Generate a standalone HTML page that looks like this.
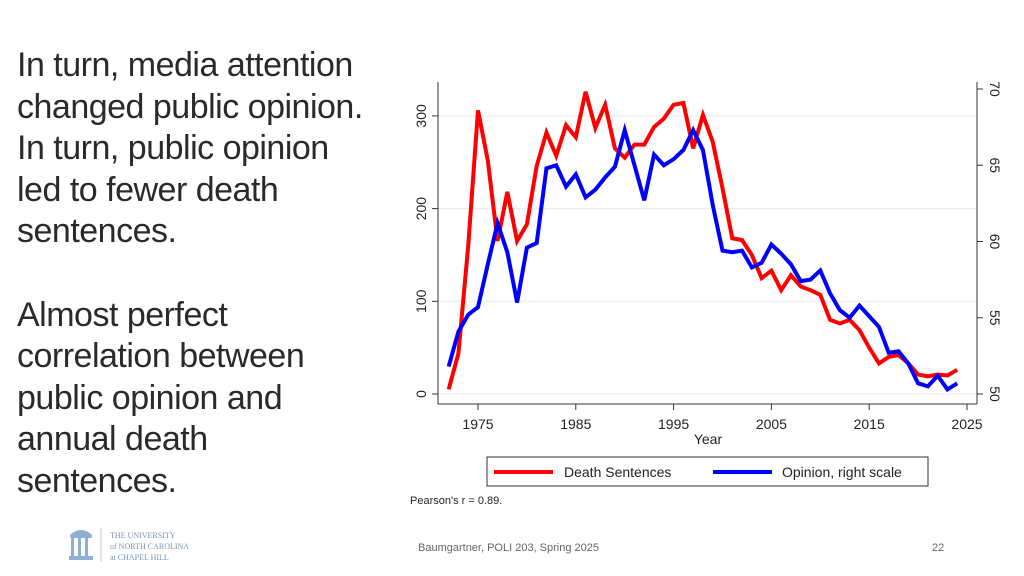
<!DOCTYPE html>
<html><head><meta charset="utf-8"><style>
body{margin:0;width:1024px;height:576px;background:#fff;overflow:hidden;position:relative;font-family:"Liberation Sans",sans-serif}
.txt{position:absolute;left:17px;top:45px;font-size:34px;line-height:41.6px;color:#2a2a2a;letter-spacing:-0.5px;white-space:nowrap}
.foot{position:absolute;top:542px;font-size:11px;color:#666}
</style></head><body>
<div class="txt">In turn, media attention<br>changed public opinion.<br>In turn, public opinion<br>led to fewer death<br>sentences.<br><br>Almost perfect<br>correlation between<br>public opinion and<br>annual death<br>sentences.</div>
<div style="position:absolute;left:68px;top:526px;width:150px;height:40px">
<svg width="150" height="40"><g fill="#8fb0d6"><rect x="2" y="8" width="22" height="4" rx="2"/><rect x="3" y="12" width="3" height="18"/><rect x="10" y="12" width="3" height="18"/><rect x="17" y="12" width="3" height="18"/><rect x="1" y="30" width="24" height="4"/><path d="M3 8 Q13 0 23 8Z"/></g><line x1="33" y1="2" x2="33" y2="36" stroke="#ccc"/>
<text x="42" y="12" font-size="8" fill="#7a94b8" font-family="Liberation Serif">THE UNIVERSITY</text><text x="42" y="23" font-size="8" fill="#7a94b8" font-family="Liberation Serif">of NORTH CAROLINA</text><text x="42" y="34" font-size="8" fill="#7a94b8" font-family="Liberation Serif">at CHAPEL HILL</text></svg></div>
<div class="foot" style="left:418px">Baumgartner, POLI 203, Spring 2025</div>
<div class="foot" style="left:932px">22</div>
<svg id="chart" width="1024" height="576" style="position:absolute;left:0;top:0"></svg>
<script>
const years=[];for(let y=1972;y<=2024;y++)years.push(y);
const deaths=[5,44,160,306,252,165,218,165,183,246,282,257,290,277,326,287,312,265,255,269,269,288,297,312,314,265,301,272,222,168,166,150,125,133,112,128,116,112,107,80,76,80,69,50,33,40,42,33,21,19,21,20,26];
const opinion=[51.8,54.1,55.2,55.7,58.5,61.2,59.3,56.0,59.6,59.9,64.8,65.0,63.6,64.4,62.9,63.4,64.2,64.9,67.3,65.0,62.7,65.7,65.0,65.4,66.0,67.3,66.0,62.4,59.4,59.3,59.4,58.3,58.6,59.8,59.2,58.5,57.4,57.5,58.1,56.6,55.5,55.0,55.8,55.1,54.4,52.7,52.8,52.0,50.7,50.5,51.2,50.3,50.7];
const xTicks=[1975,1985,1995,2005,2015,2025];
const leftTicks=[0,100,200,300];
const rightTicks=[50,55,60,65,70];
const NS="http://www.w3.org/2000/svg",svg=document.getElementById('chart');
const X=y=>478+(y-1975)*9.78, YL=v=>394-v*0.927, YR=v=>394-(v-50)*15.25;
function mk(t,a,txt){const e=document.createElementNS(NS,t);for(const k in a)e.setAttribute(k,a[k]);if(txt!=null)e.textContent=txt;svg.appendChild(e);return e;}
leftTicks.forEach(v=>{const g=mk('line',{x1:438,x2:977,y1:YL(v),y2:YL(v),stroke:'#e6ecf0','stroke-width':1});


mk('line',{x1:432,x2:438,y1:YL(v),y2:YL(v),stroke:'#333'});
const l=mk('text',{x:0,y:0,'font-size':14,fill:'#222','text-anchor':'middle',transform:`translate(426,${YL(v)}) rotate(-90)`},v);

});
rightTicks.forEach(v=>{mk('line',{x1:977,x2:983,y1:YR(v),y2:YR(v),stroke:'#333'});
const l=mk('text',{x:0,y:0,'font-size':14,fill:'#222','text-anchor':'middle',transform:`translate(990,${YR(v)}) rotate(90)`},v);

});
xTicks.forEach(v=>{mk('line',{x1:X(v),x2:X(v),y1:404,y2:410,stroke:'#333'});
const l=mk('text',{x:X(v),y:429,'font-size':14,fill:'#222','text-anchor':'middle'},v);

});
mk('line',{x1:438,x2:438,y1:82,y2:404,stroke:'#333'});
mk('line',{x1:977,x2:977,y1:82,y2:404,stroke:'#333'});
mk('line',{x1:438,x2:977,y1:404,y2:404,stroke:'#333'});
const xt=mk('text',{x:708,y:444,'font-size':14,fill:'#222','text-anchor':'middle'},'Year');


const pr=mk('polyline',{points:years.map((y,i)=>X(y)+','+YL(deaths[i])).join(' '),fill:'none',stroke:'#f00','stroke-width':4,'stroke-linejoin':'miter'});


const pb=mk('polyline',{points:years.map((y,i)=>X(y)+','+YR(opinion[i])).join(' '),fill:'none',stroke:'#00f','stroke-width':4});


const lg=mk('rect',{x:487,y:457,width:441,height:29,fill:'#fff',stroke:'#333'});


mk('line',{x1:494,x2:553,y1:472,y2:472,stroke:'#f00','stroke-width':4});
mk('text',{x:564,y:477,'font-size':14,fill:'#222'},'Death Sentences');
mk('line',{x1:713,x2:772,y1:472,y2:472,stroke:'#00f','stroke-width':4});
mk('text',{x:782,y:477,'font-size':14,fill:'#222'},'Opinion, right scale');
const n=mk('text',{x:410,y:504,'font-size':11,fill:'#222'},"Pearson's r = 0.89.");


</script>
</body></html>
